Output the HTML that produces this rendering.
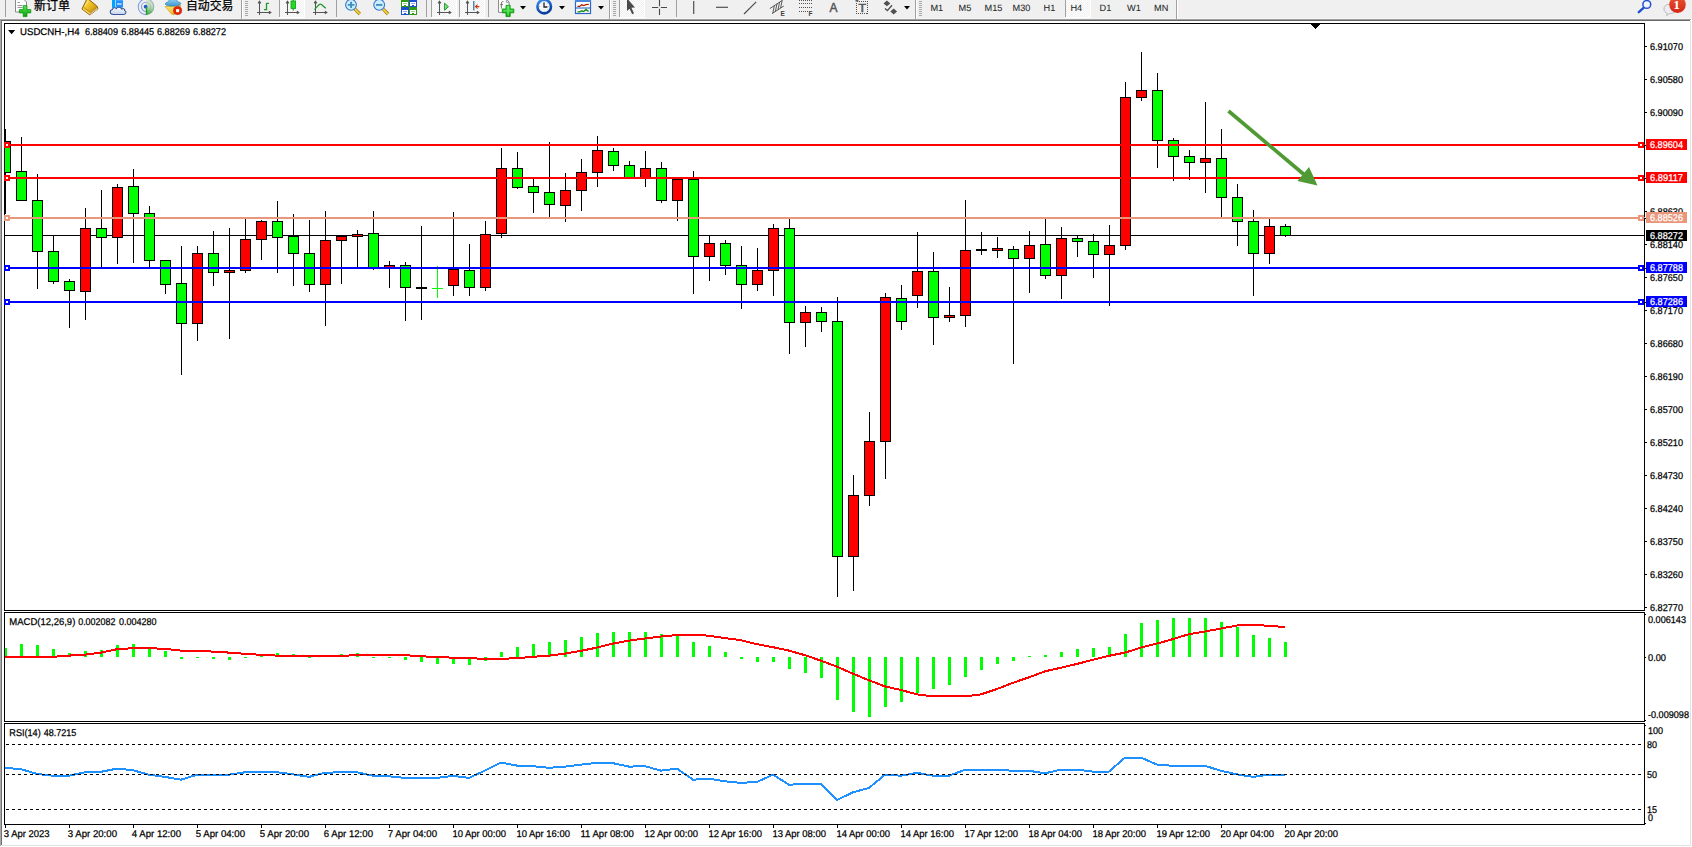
<!DOCTYPE html>
<html lang="zh"><head><meta charset="utf-8"><title>USDCNH-,H4</title>
<style>
html,body{margin:0;padding:0;background:#fff}
body{width:1692px;height:847px;overflow:hidden;position:relative;font-family:"Liberation Sans","Noto Sans CJK SC",sans-serif}
svg{position:absolute;left:0;top:0;display:block}
text{font-family:"Liberation Sans","Noto Sans CJK SC",sans-serif;fill:#000}
.ax{font-size:9.8px;stroke:#000;stroke-width:0.25px;text-rendering:geometricPrecision}
.lb{font-size:9.8px;fill:#fff;stroke:#fff;stroke-width:0.25px;text-rendering:geometricPrecision}
.tb{font-size:9.2px;fill:#2a2a2a;stroke:#2a2a2a;stroke-width:0.08px;text-rendering:geometricPrecision}
.cj{font-size:12px;fill:#000;stroke:#000;stroke-width:0.25px}
</style></head><body>
<svg width="1692" height="847" viewBox="0 0 1692 847">
<g shape-rendering="crispEdges">
<rect x="0" y="0" width="1692" height="847" fill="#fff"/>
<rect x="0" y="0" width="1692" height="18" fill="#f0f0f0"/>
<rect x="0" y="18" width="1692" height="1" fill="#f5f5f5"/>
<rect x="0" y="19" width="1691" height="1" fill="#a0a0a0"/>
<rect x="0" y="20" width="1" height="1" fill="#a0a0a0"/>
<rect x="1" y="20" width="1689" height="1" fill="#696969"/>
<rect x="1691" y="19" width="1" height="2" fill="#fff"/>
<rect x="0" y="21" width="1" height="825" fill="#a9a9a9"/>
<rect x="1" y="21" width="1" height="824" fill="#727272"/>
<rect x="1690" y="21" width="1" height="825" fill="#e3e3e3"/>
<rect x="2" y="845" width="1689" height="1" fill="#e3e3e3"/>
<rect x="4" y="23" width="1641" height="1" fill="#000"/>
<rect x="4" y="23" width="1" height="802" fill="#000"/>
<rect x="1644" y="23" width="1" height="802" fill="#000"/>
<rect x="4" y="824" width="1641" height="1" fill="#000"/>
<rect x="4" y="610" width="1641" height="1" fill="#000"/>
<rect x="4" y="612" width="1641" height="1" fill="#000"/>
<rect x="4" y="721" width="1641" height="1" fill="#000"/>
<rect x="4" y="723" width="1641" height="1" fill="#000"/>
<rect x="4" y="611" width="1641" height="1" fill="#fff"/>
<rect x="4" y="722" width="1641" height="1" fill="#fff"/>
<polygon points="1310,24 1320,24 1315,29" fill="#000"/>
<rect x="5" y="235" width="1639" height="1" fill="#000"/>
<rect x="5" y="129" width="1" height="85" fill="#000"/>
<rect x="5" y="141" width="6" height="32" fill="#000"/>
<rect x="5" y="142" width="5" height="30" fill="#0f0"/>
<rect x="21" y="137" width="1" height="63" fill="#000"/>
<rect x="16" y="171" width="11" height="30" fill="#000"/>
<rect x="17" y="172" width="9" height="28" fill="#0f0"/>
<rect x="37" y="174" width="1" height="115" fill="#000"/>
<rect x="32" y="200" width="11" height="52" fill="#000"/>
<rect x="33" y="201" width="9" height="50" fill="#0f0"/>
<rect x="53" y="235" width="1" height="49" fill="#000"/>
<rect x="48" y="251" width="11" height="31" fill="#000"/>
<rect x="49" y="252" width="9" height="29" fill="#0f0"/>
<rect x="69" y="279" width="1" height="49" fill="#000"/>
<rect x="64" y="281" width="11" height="10" fill="#000"/>
<rect x="65" y="282" width="9" height="8" fill="#0f0"/>
<rect x="85" y="208" width="1" height="112" fill="#000"/>
<rect x="80" y="228" width="11" height="64" fill="#000"/>
<rect x="81" y="229" width="9" height="62" fill="#f00"/>
<rect x="101" y="190" width="1" height="78" fill="#000"/>
<rect x="96" y="228" width="11" height="10" fill="#000"/>
<rect x="97" y="229" width="9" height="8" fill="#0f0"/>
<rect x="117" y="184" width="1" height="80" fill="#000"/>
<rect x="112" y="187" width="11" height="51" fill="#000"/>
<rect x="113" y="188" width="9" height="49" fill="#f00"/>
<rect x="133" y="169" width="1" height="94" fill="#000"/>
<rect x="128" y="186" width="11" height="28" fill="#000"/>
<rect x="129" y="187" width="9" height="26" fill="#0f0"/>
<rect x="149" y="206" width="1" height="62" fill="#000"/>
<rect x="144" y="213" width="11" height="48" fill="#000"/>
<rect x="145" y="214" width="9" height="46" fill="#0f0"/>
<rect x="165" y="260" width="1" height="34" fill="#000"/>
<rect x="160" y="260" width="11" height="25" fill="#000"/>
<rect x="161" y="261" width="9" height="23" fill="#0f0"/>
<rect x="181" y="246" width="1" height="129" fill="#000"/>
<rect x="176" y="283" width="11" height="41" fill="#000"/>
<rect x="177" y="284" width="9" height="39" fill="#0f0"/>
<rect x="197" y="246" width="1" height="95" fill="#000"/>
<rect x="192" y="253" width="11" height="71" fill="#000"/>
<rect x="193" y="254" width="9" height="69" fill="#f00"/>
<rect x="213" y="231" width="1" height="55" fill="#000"/>
<rect x="208" y="253" width="11" height="20" fill="#000"/>
<rect x="209" y="254" width="9" height="18" fill="#0f0"/>
<rect x="229" y="228" width="1" height="111" fill="#000"/>
<rect x="224" y="270" width="11" height="3" fill="#000"/>
<rect x="225" y="271" width="9" height="1" fill="#f00"/>
<rect x="245" y="218" width="1" height="55" fill="#000"/>
<rect x="240" y="239" width="11" height="32" fill="#000"/>
<rect x="241" y="240" width="9" height="30" fill="#f00"/>
<rect x="261" y="220" width="1" height="40" fill="#000"/>
<rect x="256" y="221" width="11" height="19" fill="#000"/>
<rect x="257" y="222" width="9" height="17" fill="#f00"/>
<rect x="277" y="201" width="1" height="72" fill="#000"/>
<rect x="272" y="221" width="11" height="17" fill="#000"/>
<rect x="273" y="222" width="9" height="15" fill="#0f0"/>
<rect x="293" y="214" width="1" height="72" fill="#000"/>
<rect x="288" y="236" width="11" height="18" fill="#000"/>
<rect x="289" y="237" width="9" height="16" fill="#0f0"/>
<rect x="309" y="220" width="1" height="72" fill="#000"/>
<rect x="304" y="253" width="11" height="32" fill="#000"/>
<rect x="305" y="254" width="9" height="30" fill="#0f0"/>
<rect x="325" y="211" width="1" height="115" fill="#000"/>
<rect x="320" y="240" width="11" height="45" fill="#000"/>
<rect x="321" y="241" width="9" height="43" fill="#f00"/>
<rect x="341" y="235" width="1" height="49" fill="#000"/>
<rect x="336" y="236" width="11" height="5" fill="#000"/>
<rect x="337" y="237" width="9" height="3" fill="#f00"/>
<rect x="357" y="230" width="1" height="37" fill="#000"/>
<rect x="352" y="234" width="11" height="3" fill="#000"/>
<rect x="353" y="235" width="9" height="1" fill="#f00"/>
<rect x="373" y="211" width="1" height="59" fill="#000"/>
<rect x="368" y="233" width="11" height="35" fill="#000"/>
<rect x="369" y="234" width="9" height="33" fill="#0f0"/>
<rect x="389" y="261" width="1" height="27" fill="#000"/>
<rect x="384" y="265" width="11" height="3" fill="#000"/>
<rect x="385" y="266" width="9" height="1" fill="#f00"/>
<rect x="405" y="262" width="1" height="59" fill="#000"/>
<rect x="400" y="265" width="11" height="23" fill="#000"/>
<rect x="401" y="266" width="9" height="21" fill="#0f0"/>
<rect x="421" y="226" width="1" height="94" fill="#000"/>
<rect x="416" y="287" width="11" height="2" fill="#000"/>
<rect x="437" y="266" width="1" height="32" fill="#0f0"/>
<rect x="432" y="288" width="11" height="1" fill="#0f0"/>
<rect x="453" y="212" width="1" height="84" fill="#000"/>
<rect x="448" y="269" width="11" height="17" fill="#000"/>
<rect x="449" y="270" width="9" height="15" fill="#f00"/>
<rect x="469" y="244" width="1" height="52" fill="#000"/>
<rect x="464" y="270" width="11" height="18" fill="#000"/>
<rect x="465" y="271" width="9" height="16" fill="#0f0"/>
<rect x="485" y="221" width="1" height="70" fill="#000"/>
<rect x="480" y="234" width="11" height="54" fill="#000"/>
<rect x="481" y="235" width="9" height="52" fill="#f00"/>
<rect x="501" y="148" width="1" height="90" fill="#000"/>
<rect x="496" y="168" width="11" height="66" fill="#000"/>
<rect x="497" y="169" width="9" height="64" fill="#f00"/>
<rect x="517" y="152" width="1" height="37" fill="#000"/>
<rect x="512" y="168" width="11" height="20" fill="#000"/>
<rect x="513" y="169" width="9" height="18" fill="#0f0"/>
<rect x="533" y="179" width="1" height="34" fill="#000"/>
<rect x="528" y="186" width="11" height="7" fill="#000"/>
<rect x="529" y="187" width="9" height="5" fill="#0f0"/>
<rect x="549" y="142" width="1" height="75" fill="#000"/>
<rect x="544" y="192" width="11" height="13" fill="#000"/>
<rect x="545" y="193" width="9" height="11" fill="#0f0"/>
<rect x="565" y="173" width="1" height="49" fill="#000"/>
<rect x="560" y="190" width="11" height="16" fill="#000"/>
<rect x="561" y="191" width="9" height="14" fill="#f00"/>
<rect x="581" y="159" width="1" height="52" fill="#000"/>
<rect x="576" y="172" width="11" height="19" fill="#000"/>
<rect x="577" y="173" width="9" height="17" fill="#f00"/>
<rect x="597" y="136" width="1" height="51" fill="#000"/>
<rect x="592" y="150" width="11" height="23" fill="#000"/>
<rect x="593" y="151" width="9" height="21" fill="#f00"/>
<rect x="613" y="148" width="1" height="23" fill="#000"/>
<rect x="608" y="151" width="11" height="15" fill="#000"/>
<rect x="609" y="152" width="9" height="13" fill="#0f0"/>
<rect x="629" y="161" width="1" height="17" fill="#000"/>
<rect x="624" y="165" width="11" height="14" fill="#000"/>
<rect x="625" y="166" width="9" height="12" fill="#0f0"/>
<rect x="645" y="151" width="1" height="36" fill="#000"/>
<rect x="640" y="168" width="11" height="11" fill="#000"/>
<rect x="641" y="169" width="9" height="9" fill="#f00"/>
<rect x="661" y="162" width="1" height="41" fill="#000"/>
<rect x="656" y="168" width="11" height="33" fill="#000"/>
<rect x="657" y="169" width="9" height="31" fill="#0f0"/>
<rect x="677" y="179" width="1" height="42" fill="#000"/>
<rect x="672" y="179" width="11" height="22" fill="#000"/>
<rect x="673" y="180" width="9" height="20" fill="#f00"/>
<rect x="693" y="171" width="1" height="123" fill="#000"/>
<rect x="688" y="179" width="11" height="78" fill="#000"/>
<rect x="689" y="180" width="9" height="76" fill="#0f0"/>
<rect x="709" y="236" width="1" height="45" fill="#000"/>
<rect x="704" y="243" width="11" height="14" fill="#000"/>
<rect x="705" y="244" width="9" height="12" fill="#f00"/>
<rect x="725" y="240" width="1" height="35" fill="#000"/>
<rect x="720" y="243" width="11" height="23" fill="#000"/>
<rect x="721" y="244" width="9" height="21" fill="#0f0"/>
<rect x="741" y="246" width="1" height="63" fill="#000"/>
<rect x="736" y="265" width="11" height="20" fill="#000"/>
<rect x="737" y="266" width="9" height="18" fill="#0f0"/>
<rect x="757" y="248" width="1" height="43" fill="#000"/>
<rect x="752" y="270" width="11" height="15" fill="#000"/>
<rect x="753" y="271" width="9" height="13" fill="#f00"/>
<rect x="773" y="224" width="1" height="72" fill="#000"/>
<rect x="768" y="228" width="11" height="43" fill="#000"/>
<rect x="769" y="229" width="9" height="41" fill="#f00"/>
<rect x="789" y="218" width="1" height="136" fill="#000"/>
<rect x="784" y="228" width="11" height="95" fill="#000"/>
<rect x="785" y="229" width="9" height="93" fill="#0f0"/>
<rect x="805" y="306" width="1" height="41" fill="#000"/>
<rect x="800" y="312" width="11" height="11" fill="#000"/>
<rect x="801" y="313" width="9" height="9" fill="#f00"/>
<rect x="821" y="307" width="1" height="25" fill="#000"/>
<rect x="816" y="312" width="11" height="10" fill="#000"/>
<rect x="817" y="313" width="9" height="8" fill="#0f0"/>
<rect x="837" y="297" width="1" height="300" fill="#000"/>
<rect x="832" y="321" width="11" height="236" fill="#000"/>
<rect x="833" y="322" width="9" height="234" fill="#0f0"/>
<rect x="853" y="475" width="1" height="116" fill="#000"/>
<rect x="848" y="495" width="11" height="62" fill="#000"/>
<rect x="849" y="496" width="9" height="60" fill="#f00"/>
<rect x="869" y="412" width="1" height="94" fill="#000"/>
<rect x="864" y="441" width="11" height="55" fill="#000"/>
<rect x="865" y="442" width="9" height="53" fill="#f00"/>
<rect x="885" y="293" width="1" height="186" fill="#000"/>
<rect x="880" y="297" width="11" height="145" fill="#000"/>
<rect x="881" y="298" width="9" height="143" fill="#f00"/>
<rect x="901" y="285" width="1" height="45" fill="#000"/>
<rect x="896" y="298" width="11" height="24" fill="#000"/>
<rect x="897" y="299" width="9" height="22" fill="#0f0"/>
<rect x="917" y="232" width="1" height="76" fill="#000"/>
<rect x="912" y="271" width="11" height="25" fill="#000"/>
<rect x="913" y="272" width="9" height="23" fill="#f00"/>
<rect x="933" y="252" width="1" height="93" fill="#000"/>
<rect x="928" y="271" width="11" height="47" fill="#000"/>
<rect x="929" y="272" width="9" height="45" fill="#0f0"/>
<rect x="949" y="287" width="1" height="35" fill="#000"/>
<rect x="944" y="315" width="11" height="3" fill="#000"/>
<rect x="945" y="316" width="9" height="1" fill="#f00"/>
<rect x="965" y="200" width="1" height="127" fill="#000"/>
<rect x="960" y="250" width="11" height="66" fill="#000"/>
<rect x="961" y="251" width="9" height="64" fill="#f00"/>
<rect x="981" y="232" width="1" height="23" fill="#000"/>
<rect x="976" y="249" width="11" height="2" fill="#000"/>
<rect x="997" y="237" width="1" height="21" fill="#000"/>
<rect x="992" y="248" width="11" height="3" fill="#000"/>
<rect x="993" y="249" width="9" height="1" fill="#f00"/>
<rect x="1013" y="246" width="1" height="118" fill="#000"/>
<rect x="1008" y="249" width="11" height="10" fill="#000"/>
<rect x="1009" y="250" width="9" height="8" fill="#0f0"/>
<rect x="1029" y="231" width="1" height="62" fill="#000"/>
<rect x="1024" y="245" width="11" height="14" fill="#000"/>
<rect x="1025" y="246" width="9" height="12" fill="#f00"/>
<rect x="1045" y="219" width="1" height="60" fill="#000"/>
<rect x="1040" y="244" width="11" height="32" fill="#000"/>
<rect x="1041" y="245" width="9" height="30" fill="#0f0"/>
<rect x="1061" y="227" width="1" height="72" fill="#000"/>
<rect x="1056" y="238" width="11" height="38" fill="#000"/>
<rect x="1057" y="239" width="9" height="36" fill="#f00"/>
<rect x="1077" y="236" width="1" height="21" fill="#000"/>
<rect x="1072" y="238" width="11" height="4" fill="#000"/>
<rect x="1073" y="239" width="9" height="2" fill="#0f0"/>
<rect x="1093" y="234" width="1" height="44" fill="#000"/>
<rect x="1088" y="241" width="11" height="14" fill="#000"/>
<rect x="1089" y="242" width="9" height="12" fill="#0f0"/>
<rect x="1109" y="225" width="1" height="81" fill="#000"/>
<rect x="1104" y="245" width="11" height="10" fill="#000"/>
<rect x="1105" y="246" width="9" height="8" fill="#f00"/>
<rect x="1125" y="82" width="1" height="168" fill="#000"/>
<rect x="1120" y="97" width="11" height="149" fill="#000"/>
<rect x="1121" y="98" width="9" height="147" fill="#f00"/>
<rect x="1141" y="52" width="1" height="49" fill="#000"/>
<rect x="1136" y="90" width="11" height="8" fill="#000"/>
<rect x="1137" y="91" width="9" height="6" fill="#f00"/>
<rect x="1157" y="73" width="1" height="95" fill="#000"/>
<rect x="1152" y="90" width="11" height="51" fill="#000"/>
<rect x="1153" y="91" width="9" height="49" fill="#0f0"/>
<rect x="1173" y="138" width="1" height="43" fill="#000"/>
<rect x="1168" y="140" width="11" height="17" fill="#000"/>
<rect x="1169" y="141" width="9" height="15" fill="#0f0"/>
<rect x="1189" y="150" width="1" height="30" fill="#000"/>
<rect x="1184" y="156" width="11" height="7" fill="#000"/>
<rect x="1185" y="157" width="9" height="5" fill="#0f0"/>
<rect x="1205" y="102" width="1" height="91" fill="#000"/>
<rect x="1200" y="158" width="11" height="5" fill="#000"/>
<rect x="1201" y="159" width="9" height="3" fill="#f00"/>
<rect x="1221" y="129" width="1" height="88" fill="#000"/>
<rect x="1216" y="158" width="11" height="40" fill="#000"/>
<rect x="1217" y="159" width="9" height="38" fill="#0f0"/>
<rect x="1237" y="184" width="1" height="62" fill="#000"/>
<rect x="1232" y="197" width="11" height="25" fill="#000"/>
<rect x="1233" y="198" width="9" height="23" fill="#0f0"/>
<rect x="1253" y="210" width="1" height="86" fill="#000"/>
<rect x="1248" y="221" width="11" height="33" fill="#000"/>
<rect x="1249" y="222" width="9" height="31" fill="#0f0"/>
<rect x="1269" y="219" width="1" height="45" fill="#000"/>
<rect x="1264" y="226" width="11" height="28" fill="#000"/>
<rect x="1265" y="227" width="9" height="26" fill="#f00"/>
<rect x="1285" y="224" width="1" height="13" fill="#000"/>
<rect x="1280" y="226" width="11" height="10" fill="#000"/>
<rect x="1281" y="227" width="9" height="8" fill="#0f0"/>
<rect x="5" y="144" width="1639" height="2" fill="#f00"/>
<rect x="1644" y="144" width="1" height="1" fill="#f00"/>
<rect x="1645" y="145" width="1" height="1" fill="#000"/>
<rect x="4" y="142" width="6" height="6" fill="#f00"/>
<rect x="6" y="144" width="2" height="2" fill="#fff"/>
<rect x="1638" y="142" width="6" height="6" fill="#f00"/>
<rect x="1640" y="144" width="2" height="2" fill="#fff"/>
<rect x="5" y="177" width="1639" height="2" fill="#f00"/>
<rect x="1644" y="177" width="1" height="1" fill="#f00"/>
<rect x="1645" y="178" width="1" height="1" fill="#000"/>
<rect x="4" y="175" width="6" height="6" fill="#f00"/>
<rect x="6" y="177" width="2" height="2" fill="#fff"/>
<rect x="1638" y="175" width="6" height="6" fill="#f00"/>
<rect x="1640" y="177" width="2" height="2" fill="#fff"/>
<rect x="5" y="217" width="1639" height="2" fill="#e9967a"/>
<rect x="1644" y="217" width="1" height="1" fill="#e9967a"/>
<rect x="1645" y="218" width="1" height="1" fill="#000"/>
<rect x="4" y="215" width="6" height="6" fill="#e9967a"/>
<rect x="6" y="217" width="2" height="2" fill="#fff"/>
<rect x="1638" y="215" width="6" height="6" fill="#e9967a"/>
<rect x="1640" y="217" width="2" height="2" fill="#fff"/>
<rect x="5" y="267" width="1639" height="2" fill="#00f"/>
<rect x="1644" y="267" width="1" height="1" fill="#00f"/>
<rect x="1645" y="268" width="1" height="1" fill="#000"/>
<rect x="4" y="265" width="6" height="6" fill="#00f"/>
<rect x="6" y="267" width="2" height="2" fill="#fff"/>
<rect x="1638" y="265" width="6" height="6" fill="#00f"/>
<rect x="1640" y="267" width="2" height="2" fill="#fff"/>
<rect x="5" y="301" width="1639" height="2" fill="#00f"/>
<rect x="1644" y="301" width="1" height="1" fill="#00f"/>
<rect x="1645" y="302" width="1" height="1" fill="#000"/>
<rect x="4" y="299" width="6" height="6" fill="#00f"/>
<rect x="6" y="301" width="2" height="2" fill="#fff"/>
<rect x="1638" y="299" width="6" height="6" fill="#00f"/>
<rect x="1640" y="301" width="2" height="2" fill="#fff"/>
<rect x="5" y="648" width="2" height="9" fill="#0f0"/>
<rect x="20" y="644" width="3" height="13" fill="#0f0"/>
<rect x="36" y="645" width="3" height="12" fill="#0f0"/>
<rect x="52" y="649" width="3" height="8" fill="#0f0"/>
<rect x="68" y="653" width="3" height="4" fill="#0f0"/>
<rect x="84" y="651" width="3" height="6" fill="#0f0"/>
<rect x="100" y="650" width="3" height="7" fill="#0f0"/>
<rect x="116" y="645" width="3" height="12" fill="#0f0"/>
<rect x="132" y="644" width="3" height="13" fill="#0f0"/>
<rect x="148" y="649" width="3" height="8" fill="#0f0"/>
<rect x="164" y="651" width="3" height="6" fill="#0f0"/>
<rect x="180" y="657" width="3" height="2" fill="#0f0"/>
<rect x="196" y="657" width="3" height="1" fill="#0f0"/>
<rect x="212" y="657" width="3" height="2" fill="#0f0"/>
<rect x="228" y="657" width="3" height="3" fill="#0f0"/>
<rect x="244" y="657" width="3" height="1" fill="#0f0"/>
<rect x="260" y="655" width="3" height="2" fill="#0f0"/>
<rect x="276" y="653" width="3" height="4" fill="#0f0"/>
<rect x="292" y="654" width="3" height="3" fill="#0f0"/>
<rect x="308" y="657" width="3" height="1" fill="#0f0"/>
<rect x="324" y="656" width="3" height="1" fill="#0f0"/>
<rect x="340" y="654" width="3" height="3" fill="#0f0"/>
<rect x="356" y="653" width="3" height="4" fill="#0f0"/>
<rect x="372" y="657" width="3" height="1" fill="#0f0"/>
<rect x="388" y="657" width="3" height="1" fill="#0f0"/>
<rect x="404" y="657" width="3" height="3" fill="#0f0"/>
<rect x="420" y="657" width="3" height="5" fill="#0f0"/>
<rect x="436" y="657" width="3" height="7" fill="#0f0"/>
<rect x="452" y="657" width="3" height="7" fill="#0f0"/>
<rect x="468" y="657" width="3" height="8" fill="#0f0"/>
<rect x="484" y="657" width="3" height="4" fill="#0f0"/>
<rect x="500" y="652" width="3" height="5" fill="#0f0"/>
<rect x="516" y="647" width="3" height="10" fill="#0f0"/>
<rect x="532" y="644" width="3" height="13" fill="#0f0"/>
<rect x="548" y="642" width="3" height="15" fill="#0f0"/>
<rect x="564" y="640" width="3" height="17" fill="#0f0"/>
<rect x="580" y="637" width="3" height="20" fill="#0f0"/>
<rect x="596" y="633" width="3" height="24" fill="#0f0"/>
<rect x="612" y="632" width="3" height="25" fill="#0f0"/>
<rect x="628" y="632" width="3" height="25" fill="#0f0"/>
<rect x="644" y="632" width="3" height="25" fill="#0f0"/>
<rect x="660" y="634" width="3" height="23" fill="#0f0"/>
<rect x="676" y="636" width="3" height="21" fill="#0f0"/>
<rect x="692" y="642" width="3" height="15" fill="#0f0"/>
<rect x="708" y="646" width="3" height="11" fill="#0f0"/>
<rect x="724" y="652" width="3" height="5" fill="#0f0"/>
<rect x="740" y="657" width="3" height="2" fill="#0f0"/>
<rect x="756" y="657" width="3" height="5" fill="#0f0"/>
<rect x="772" y="657" width="3" height="5" fill="#0f0"/>
<rect x="788" y="657" width="3" height="12" fill="#0f0"/>
<rect x="804" y="657" width="3" height="16" fill="#0f0"/>
<rect x="820" y="657" width="3" height="21" fill="#0f0"/>
<rect x="836" y="657" width="3" height="43" fill="#0f0"/>
<rect x="852" y="657" width="3" height="55" fill="#0f0"/>
<rect x="868" y="657" width="3" height="60" fill="#0f0"/>
<rect x="884" y="657" width="3" height="50" fill="#0f0"/>
<rect x="900" y="657" width="3" height="45" fill="#0f0"/>
<rect x="916" y="657" width="3" height="36" fill="#0f0"/>
<rect x="932" y="657" width="3" height="32" fill="#0f0"/>
<rect x="948" y="657" width="3" height="28" fill="#0f0"/>
<rect x="964" y="657" width="3" height="20" fill="#0f0"/>
<rect x="980" y="657" width="3" height="13" fill="#0f0"/>
<rect x="996" y="657" width="3" height="7" fill="#0f0"/>
<rect x="1012" y="657" width="3" height="4" fill="#0f0"/>
<rect x="1028" y="656" width="3" height="1" fill="#0f0"/>
<rect x="1044" y="655" width="3" height="2" fill="#0f0"/>
<rect x="1060" y="652" width="3" height="5" fill="#0f0"/>
<rect x="1076" y="649" width="3" height="8" fill="#0f0"/>
<rect x="1092" y="648" width="3" height="9" fill="#0f0"/>
<rect x="1108" y="647" width="3" height="10" fill="#0f0"/>
<rect x="1124" y="634" width="3" height="23" fill="#0f0"/>
<rect x="1140" y="623" width="3" height="34" fill="#0f0"/>
<rect x="1156" y="620" width="3" height="37" fill="#0f0"/>
<rect x="1172" y="618" width="3" height="39" fill="#0f0"/>
<rect x="1188" y="618" width="3" height="39" fill="#0f0"/>
<rect x="1204" y="618" width="3" height="39" fill="#0f0"/>
<rect x="1220" y="622" width="3" height="35" fill="#0f0"/>
<rect x="1236" y="627" width="3" height="30" fill="#0f0"/>
<rect x="1252" y="635" width="3" height="22" fill="#0f0"/>
<rect x="1268" y="638" width="3" height="19" fill="#0f0"/>
<rect x="1284" y="642" width="3" height="15" fill="#0f0"/>
</g>
<polyline points="5,656.8 21,656.8 37,656.8 53,656.8 69,655.6 85,654.6 101,652.6 117,649.2 133,648.2 149,648.2 165,648.8 181,650.6 197,650.8 213,651.6 229,652.6 245,653.8 261,654.8 277,655.6 293,655.8 309,655.8 325,655.8 341,655.8 357,655.2 373,654.8 389,654.8 405,655.2 421,656.2 437,657.2 453,657.6 469,658.2 485,658.8 501,658.8 517,658.2 533,656.8 549,655.6 565,653.6 581,650.8 597,647.6 613,643.6 629,640.6 645,638.5 661,636.5 677,635.1 693,634.7 709,635.7 725,638.1 741,640.2 757,644.2 773,647.2 789,650.6 805,655.2 821,660.7 837,666.7 853,673.7 869,680.3 885,686.4 901,690.0 917,694.4 933,696.4 949,696.4 965,696.4 981,694.4 997,689.0 1013,682.8 1029,677.3 1045,671.3 1061,667.7 1077,663.9 1093,659.8 1109,655.8 1125,652.6 1141,647.6 1157,643.6 1173,639.1 1189,634.1 1205,631.5 1221,628.5 1237,625.5 1253,625.1 1269,625.7 1285,627.1" fill="none" stroke="#f00" stroke-width="2" stroke-linejoin="round" shape-rendering="crispEdges"/>
<polyline points="5,767.8 21,769.2 37,773.9 53,775.7 69,775.7 85,772.3 101,771.8 117,768.6 133,770.2 149,774.7 165,776.9 181,779.7 197,774.7 213,774.7 229,774.7 245,772.3 261,772.3 277,772.3 293,774.3 309,776.9 325,772.7 341,772.3 357,772.3 373,775.7 389,776.3 405,777.9 421,777.9 437,777.9 453,775.9 469,777.9 485,770.6 501,762.6 517,765.6 533,766.2 549,767.8 565,766.6 581,764.6 597,762.8 613,763.2 629,766.6 645,766.2 661,770.6 677,768.6 693,779.7 709,778.7 725,781.3 741,782.9 757,781.9 773,774.7 789,784.7 805,783.9 821,783.9 837,800.0 853,792.3 869,787.9 885,774.7 901,775.7 917,772.9 933,775.7 949,775.7 965,769.8 981,769.6 997,769.6 1013,770.8 1029,770.8 1045,773.3 1061,769.6 1077,769.6 1093,771.6 1109,771.6 1125,757.6 1141,757.6 1157,764.6 1173,765.8 1189,765.8 1205,765.8 1221,770.8 1237,774.3 1253,776.9 1269,774.7 1285,774.7" fill="none" stroke="#1e90ff" stroke-width="2" stroke-linejoin="round" shape-rendering="crispEdges"/>
<g shape-rendering="crispEdges">
<line x1="6" y1="744.5" x2="1642" y2="744.5" stroke="#000" stroke-width="1" stroke-dasharray="3,3"/>
<line x1="6" y1="774.5" x2="1642" y2="774.5" stroke="#000" stroke-width="1" stroke-dasharray="3,3"/>
<line x1="6" y1="809.5" x2="1642" y2="809.5" stroke="#000" stroke-width="1" stroke-dasharray="3,3"/>
</g>
<line x1="1228.5" y1="111" x2="1304" y2="174.5" stroke="#4f9a32" stroke-width="3.6"/>
<polygon points="1317.5,185.5 1309,167 1297.5,181" fill="#4f9a32"/>
<g shape-rendering="crispEdges">
<rect x="1645" y="46" width="2" height="1" fill="#000"/>
<rect x="1645" y="79" width="2" height="1" fill="#000"/>
<rect x="1645" y="112" width="2" height="1" fill="#000"/>
<rect x="1645" y="145" width="2" height="1" fill="#000"/>
<rect x="1645" y="178" width="2" height="1" fill="#000"/>
<rect x="1645" y="211" width="2" height="1" fill="#000"/>
<rect x="1645" y="244" width="2" height="1" fill="#000"/>
<rect x="1645" y="277" width="2" height="1" fill="#000"/>
<rect x="1645" y="310" width="2" height="1" fill="#000"/>
<rect x="1645" y="343" width="2" height="1" fill="#000"/>
<rect x="1645" y="376" width="2" height="1" fill="#000"/>
<rect x="1645" y="409" width="2" height="1" fill="#000"/>
<rect x="1645" y="442" width="2" height="1" fill="#000"/>
<rect x="1645" y="475" width="2" height="1" fill="#000"/>
<rect x="1645" y="508" width="2" height="1" fill="#000"/>
<rect x="1645" y="541" width="2" height="1" fill="#000"/>
<rect x="1645" y="574" width="2" height="1" fill="#000"/>
<rect x="1645" y="607" width="2" height="1" fill="#000"/>
<rect x="1645" y="614" width="1" height="1" fill="#000"/>
<rect x="1645" y="657" width="1" height="1" fill="#000"/>
<rect x="1645" y="720" width="1" height="1" fill="#000"/>
<rect x="1645" y="725" width="1" height="1" fill="#000"/>
<rect x="1645" y="823" width="1" height="1" fill="#000"/>
<rect x="5" y="825" width="1" height="3" fill="#000"/>
<rect x="69" y="825" width="1" height="3" fill="#000"/>
<rect x="133" y="825" width="1" height="3" fill="#000"/>
<rect x="197" y="825" width="1" height="3" fill="#000"/>
<rect x="261" y="825" width="1" height="3" fill="#000"/>
<rect x="325" y="825" width="1" height="3" fill="#000"/>
<rect x="389" y="825" width="1" height="3" fill="#000"/>
<rect x="453" y="825" width="1" height="3" fill="#000"/>
<rect x="517" y="825" width="1" height="3" fill="#000"/>
<rect x="581" y="825" width="1" height="3" fill="#000"/>
<rect x="645" y="825" width="1" height="3" fill="#000"/>
<rect x="709" y="825" width="1" height="3" fill="#000"/>
<rect x="773" y="825" width="1" height="3" fill="#000"/>
<rect x="837" y="825" width="1" height="3" fill="#000"/>
<rect x="901" y="825" width="1" height="3" fill="#000"/>
<rect x="965" y="825" width="1" height="3" fill="#000"/>
<rect x="1029" y="825" width="1" height="3" fill="#000"/>
<rect x="1093" y="825" width="1" height="3" fill="#000"/>
<rect x="1157" y="825" width="1" height="3" fill="#000"/>
<rect x="1221" y="825" width="1" height="3" fill="#000"/>
<rect x="1285" y="825" width="1" height="3" fill="#000"/>
</g>
<text class="ax" x="1650" y="50.0" textLength="33" lengthAdjust="spacingAndGlyphs">6.91070</text>
<text class="ax" x="1650" y="83.0" textLength="33" lengthAdjust="spacingAndGlyphs">6.90580</text>
<text class="ax" x="1650" y="116.0" textLength="33" lengthAdjust="spacingAndGlyphs">6.90090</text>
<text class="ax" x="1650" y="149.0" textLength="33" lengthAdjust="spacingAndGlyphs">6.89600</text>
<text class="ax" x="1650" y="182.0" textLength="33" lengthAdjust="spacingAndGlyphs">6.89110</text>
<text class="ax" x="1650" y="215.0" textLength="33" lengthAdjust="spacingAndGlyphs">6.88630</text>
<text class="ax" x="1650" y="248.0" textLength="33" lengthAdjust="spacingAndGlyphs">6.88140</text>
<text class="ax" x="1650" y="281.0" textLength="33" lengthAdjust="spacingAndGlyphs">6.87650</text>
<text class="ax" x="1650" y="314.0" textLength="33" lengthAdjust="spacingAndGlyphs">6.87170</text>
<text class="ax" x="1650" y="347.0" textLength="33" lengthAdjust="spacingAndGlyphs">6.86680</text>
<text class="ax" x="1650" y="380.0" textLength="33" lengthAdjust="spacingAndGlyphs">6.86190</text>
<text class="ax" x="1650" y="413.0" textLength="33" lengthAdjust="spacingAndGlyphs">6.85700</text>
<text class="ax" x="1650" y="446.0" textLength="33" lengthAdjust="spacingAndGlyphs">6.85210</text>
<text class="ax" x="1650" y="479.0" textLength="33" lengthAdjust="spacingAndGlyphs">6.84730</text>
<text class="ax" x="1650" y="512.0" textLength="33" lengthAdjust="spacingAndGlyphs">6.84240</text>
<text class="ax" x="1650" y="545.0" textLength="33" lengthAdjust="spacingAndGlyphs">6.83750</text>
<text class="ax" x="1650" y="578.0" textLength="33" lengthAdjust="spacingAndGlyphs">6.83260</text>
<text class="ax" x="1650" y="611.0" textLength="33" lengthAdjust="spacingAndGlyphs">6.82770</text>
<rect x="1646" y="139" width="41" height="11" fill="#f00" shape-rendering="crispEdges"/>
<text class="lb" x="1650" y="148.0" textLength="33" lengthAdjust="spacingAndGlyphs">6.89604</text>
<rect x="1646" y="172" width="41" height="11" fill="#f00" shape-rendering="crispEdges"/>
<text class="lb" x="1650" y="181.0" textLength="33" lengthAdjust="spacingAndGlyphs">6.89117</text>
<rect x="1646" y="212" width="41" height="11" fill="#e9967a" shape-rendering="crispEdges"/>
<text class="lb" x="1650" y="221.0" textLength="33" lengthAdjust="spacingAndGlyphs">6.88526</text>
<rect x="1646" y="230" width="41" height="11" fill="#000" shape-rendering="crispEdges"/>
<text class="lb" x="1650" y="239.0" textLength="33" lengthAdjust="spacingAndGlyphs">6.88272</text>
<rect x="1646" y="262" width="41" height="11" fill="#00f" shape-rendering="crispEdges"/>
<text class="lb" x="1650" y="271.0" textLength="33" lengthAdjust="spacingAndGlyphs">6.87788</text>
<rect x="1646" y="296" width="41" height="11" fill="#00f" shape-rendering="crispEdges"/>
<text class="lb" x="1650" y="305.0" textLength="33" lengthAdjust="spacingAndGlyphs">6.87286</text>
<text class="ax" x="1648" y="623" textLength="38" lengthAdjust="spacingAndGlyphs">0.006143</text>
<text class="ax" x="1648" y="661" textLength="18" lengthAdjust="spacingAndGlyphs">0.00</text>
<text class="ax" x="1648" y="718" textLength="41" lengthAdjust="spacingAndGlyphs">-0.009098</text>
<text class="ax" x="1648" y="734" textLength="15" lengthAdjust="spacingAndGlyphs">100</text>
<text class="ax" x="1647" y="748" textLength="10" lengthAdjust="spacingAndGlyphs">80</text>
<text class="ax" x="1647" y="778" textLength="10" lengthAdjust="spacingAndGlyphs">50</text>
<text class="ax" x="1647" y="813" textLength="10" lengthAdjust="spacingAndGlyphs">15</text>
<text class="ax" x="1648" y="821" textLength="5" lengthAdjust="spacingAndGlyphs">0</text>
<polygon points="8,30 15.2,30 11.6,34.3" fill="#000"/>
<text class="ax" x="20.0" y="35.3" textLength="59.5" lengthAdjust="spacingAndGlyphs">USDCNH-,H4</text>
<text class="ax" x="85.0" y="35.3" textLength="33.0" lengthAdjust="spacingAndGlyphs">6.88409</text>
<text class="ax" x="121.2" y="35.3" textLength="33.0" lengthAdjust="spacingAndGlyphs">6.88445</text>
<text class="ax" x="157.0" y="35.3" textLength="33.0" lengthAdjust="spacingAndGlyphs">6.88269</text>
<text class="ax" x="193.0" y="35.3" textLength="33.0" lengthAdjust="spacingAndGlyphs">6.88272</text>
<text class="ax" x="9.3" y="625.0" textLength="66.0" lengthAdjust="spacingAndGlyphs">MACD(12,26,9)</text>
<text class="ax" x="78.2" y="625.0" textLength="37.2" lengthAdjust="spacingAndGlyphs">0.002082</text>
<text class="ax" x="119.0" y="625.0" textLength="37.6" lengthAdjust="spacingAndGlyphs">0.004280</text>
<text class="ax" x="9.3" y="736.0" textLength="31.4" lengthAdjust="spacingAndGlyphs">RSI(14)</text>
<text class="ax" x="43.8" y="736.0" textLength="32.6" lengthAdjust="spacingAndGlyphs">48.7215</text>
<text class="ax" x="3.8" y="837.0" textLength="45.8" lengthAdjust="spacingAndGlyphs">3 Apr 2023</text>
<text class="ax" x="67.8" y="837.0" textLength="49.2" lengthAdjust="spacingAndGlyphs">3 Apr 20:00</text>
<text class="ax" x="131.8" y="837.0" textLength="49.2" lengthAdjust="spacingAndGlyphs">4 Apr 12:00</text>
<text class="ax" x="195.8" y="837.0" textLength="49.2" lengthAdjust="spacingAndGlyphs">5 Apr 04:00</text>
<text class="ax" x="259.8" y="837.0" textLength="49.2" lengthAdjust="spacingAndGlyphs">5 Apr 20:00</text>
<text class="ax" x="323.8" y="837.0" textLength="49.2" lengthAdjust="spacingAndGlyphs">6 Apr 12:00</text>
<text class="ax" x="387.8" y="837.0" textLength="49.2" lengthAdjust="spacingAndGlyphs">7 Apr 04:00</text>
<text class="ax" x="452.4" y="837.0" textLength="53.5" lengthAdjust="spacingAndGlyphs">10 Apr 00:00</text>
<text class="ax" x="516.4" y="837.0" textLength="53.5" lengthAdjust="spacingAndGlyphs">10 Apr 16:00</text>
<text class="ax" x="580.4" y="837.0" textLength="53.5" lengthAdjust="spacingAndGlyphs">11 Apr 08:00</text>
<text class="ax" x="644.4" y="837.0" textLength="53.5" lengthAdjust="spacingAndGlyphs">12 Apr 00:00</text>
<text class="ax" x="708.4" y="837.0" textLength="53.5" lengthAdjust="spacingAndGlyphs">12 Apr 16:00</text>
<text class="ax" x="772.4" y="837.0" textLength="53.5" lengthAdjust="spacingAndGlyphs">13 Apr 08:00</text>
<text class="ax" x="836.4" y="837.0" textLength="53.5" lengthAdjust="spacingAndGlyphs">14 Apr 00:00</text>
<text class="ax" x="900.4" y="837.0" textLength="53.5" lengthAdjust="spacingAndGlyphs">14 Apr 16:00</text>
<text class="ax" x="964.4" y="837.0" textLength="53.5" lengthAdjust="spacingAndGlyphs">17 Apr 12:00</text>
<text class="ax" x="1028.4" y="837.0" textLength="53.5" lengthAdjust="spacingAndGlyphs">18 Apr 04:00</text>
<text class="ax" x="1092.4" y="837.0" textLength="53.5" lengthAdjust="spacingAndGlyphs">18 Apr 20:00</text>
<text class="ax" x="1156.4" y="837.0" textLength="53.5" lengthAdjust="spacingAndGlyphs">19 Apr 12:00</text>
<text class="ax" x="1220.4" y="837.0" textLength="53.5" lengthAdjust="spacingAndGlyphs">20 Apr 04:00</text>
<text class="ax" x="1284.4" y="837.0" textLength="53.5" lengthAdjust="spacingAndGlyphs">20 Apr 20:00</text>
<defs>
<linearGradient id="gGold" x1="0" y1="0" x2="1" y2="1"><stop offset="0" stop-color="#fbe36a"/><stop offset="0.5" stop-color="#e9b91a"/><stop offset="1" stop-color="#a8700c"/></linearGradient>
<linearGradient id="gPlus" x1="0" y1="0" x2="0" y2="1"><stop offset="0" stop-color="#52e852"/><stop offset="1" stop-color="#08a008"/></linearGradient>
<linearGradient id="gBlue" x1="0" y1="0" x2="0" y2="1"><stop offset="0" stop-color="#2f9df4"/><stop offset="1" stop-color="#1464c8"/></linearGradient>
<linearGradient id="gRed" x1="0" y1="0" x2="0" y2="1"><stop offset="0" stop-color="#ea5434"/><stop offset="1" stop-color="#d42614"/></linearGradient>
<linearGradient id="gCloud" x1="0" y1="0" x2="0" y2="1"><stop offset="0" stop-color="#ffffff"/><stop offset="1" stop-color="#c4d2ea"/></linearGradient>
<linearGradient id="gHat" x1="0" y1="0" x2="0" y2="1"><stop offset="0" stop-color="#8fd0f0"/><stop offset="1" stop-color="#3f97cf"/></linearGradient>
<linearGradient id="gFace" x1="0" y1="0" x2="1" y2="1"><stop offset="0" stop-color="#fff27a"/><stop offset="1" stop-color="#e0a010"/></linearGradient>
<pattern id="dith" width="2" height="2" patternUnits="userSpaceOnUse"><rect width="2" height="2" fill="#f0f0f0"/><rect x="0" y="0" width="1" height="1" fill="#fff"/><rect x="1" y="1" width="1" height="1" fill="#fff"/></pattern>
<g id="ddn"><polygon points="0,0 6,0 3,3.6" fill="#000"/></g>
<g id="grip" shape-rendering="crispEdges" fill="#a8a8a8"><rect x="0" y="1" width="3" height="1"/><rect x="0" y="3" width="3" height="1"/><rect x="0" y="5" width="3" height="1"/><rect x="0" y="7" width="3" height="1"/><rect x="0" y="9" width="3" height="1"/><rect x="0" y="11" width="3" height="1"/><rect x="0" y="13" width="3" height="1"/><rect x="0" y="15" width="3" height="1"/></g>
<g id="axes" fill="none" stroke="#555" stroke-width="1.05"><path d="M2.5,15 V1.2 M1.1,3.4 L2.5,1.2 L3.9,3.4 M0,12.5 H13.8 M11.8,11.1 L13.9,12.5 L11.8,13.9"/></g>
</defs>
<!-- separators -->
<g shape-rendering="crispEdges" fill="#a0a0a0">
<rect x="5" y="0" width="1" height="17"/>
<rect x="241" y="0" width="1" height="19"/>
<rect x="279" y="0" width="1" height="17"/>
<rect x="336" y="0" width="1" height="17"/>
<rect x="426" y="0" width="1" height="17"/>
<rect x="431" y="0" width="1" height="17"/>
<rect x="459" y="0" width="1" height="17"/>
<rect x="488" y="0" width="1" height="17"/>
<rect x="609" y="0" width="1" height="19"/>
<rect x="619" y="0" width="1" height="17"/>
<rect x="676" y="0" width="1" height="17"/>
<rect x="915" y="0" width="1" height="19"/>
<rect x="1065" y="0" width="1" height="17"/>
<rect x="1176" y="0" width="1" height="19"/>
</g>
<!-- checked backgrounds -->
<g shape-rendering="crispEdges">
<g fill="url(#dith)">
<rect x="280" y="0" width="24" height="17"/>
<rect x="432" y="0" width="24" height="17"/>
<rect x="460" y="0" width="24" height="17"/>
<rect x="620" y="0" width="24" height="17"/>
<rect x="1066" y="0" width="24" height="17"/>
</g>
<g fill="#fff">
<rect x="279" y="17" width="26" height="1"/><rect x="304" y="0" width="1" height="18"/>
<rect x="431" y="17" width="26" height="1"/><rect x="456" y="0" width="1" height="18"/>
<rect x="459" y="17" width="26" height="1"/><rect x="484" y="0" width="1" height="18"/>
<rect x="619" y="17" width="26" height="1"/><rect x="644" y="0" width="1" height="18"/>
<rect x="1065" y="17" width="26" height="1"/><rect x="1090" y="0" width="1" height="18"/>
<rect x="242" y="0" width="1" height="19"/>
<rect x="610" y="0" width="1" height="19"/>
<rect x="916" y="0" width="1" height="19"/>
<rect x="1177" y="0" width="1" height="19"/>
</g>
</g>
<use href="#grip" x="245" y="0"/>
<use href="#grip" x="613" y="0"/>
<use href="#grip" x="919" y="0"/>
<!-- new order icon -->
<path d="M15.5,-1 V12 H26.5 V2 L23.5,-1 Z" fill="#fff" stroke="#8a8a8a" stroke-width="1"/>
<path d="M17.5,2.5 H20 M17.5,5.5 H22.5 M17.5,7.5 H22.5" stroke="#9a9a9a" stroke-width="1" fill="none"/>
<path d="M23.2,5.6 H27 V9.6 H30.8 V12.9 H27 V16.6 H23.2 V12.9 H19.3 V9.6 H23.2 Z" fill="url(#gPlus)" stroke="#0b8a0b" stroke-width="0.7"/>
<text class="cj" x="34" y="10" textLength="36" lengthAdjust="spacingAndGlyphs">新订单</text>
<!-- gold book -->
<path d="M86.9,-1 L88.8,-0.6 L96.8,6 L98,8.8 L89.8,14.9 L82,9 Z" fill="url(#gGold)" stroke="#8f5a06" stroke-width="1" stroke-linejoin="round"/>
<path d="M96.6,7.4 L97.8,9 L90,14.7 L89.2,13.2 Z" fill="#eadfa6"/>
<path d="M97.2,8.2 L89.6,13.9" stroke="#b08428" stroke-width="0.5" fill="none"/>
<path d="M82.6,9 L83.8,7.8 L90.2,12.6 L89.6,14.2 Z" fill="#f6d45a"/>
<path d="M83.8,7.6 L90.4,12.6 L96.6,7.6" stroke="#a86c0a" stroke-width="0.7" fill="none"/>
<path d="M88.2,0.8 L84.6,6.8" stroke="#fff3a8" stroke-width="1" stroke-opacity="0.7" fill="none"/>
<!-- cloud/server -->
<rect x="112" y="-1" width="11" height="8.6" fill="#1e90ff"/>
<rect x="112" y="-1" width="3" height="8.6" fill="#00a2ff"/>
<rect x="115" y="-1" width="0.7" height="8.6" fill="#d8f0ff"/>
<rect x="116.2" y="-1" width="6.8" height="1.6" fill="#58b4ff"/>
<rect x="117" y="3.4" width="4.6" height="1.2" fill="#f0f8ff"/>
<path d="M113.4,14.4 C109.4,14.4 109.4,10.2 112.4,9.6 C112.6,7.6 115.4,7 116.4,8.6 C117.6,6.6 121,6.8 121.6,9 C123.4,8 125.2,9.2 124.6,10.6 C126.8,11.2 126.2,14.4 123.8,14.4 Z" fill="url(#gCloud)" stroke="#34569a" stroke-width="1.05"/>
<!-- signal -->
<defs><linearGradient id="gSweep" x1="0" y1="0" x2="0" y2="1"><stop offset="0" stop-color="#b8d8b8" stop-opacity="0.35"/><stop offset="0.55" stop-color="#8cc48c" stop-opacity="0.6"/><stop offset="1" stop-color="#2fa02f" stop-opacity="0.95"/></linearGradient></defs>
<g fill="none" stroke-width="1.1">
<path d="M146,-1 A7.8,7.8 0 0 0 146,14.6" stroke="#7f9fe0"/>
<path d="M146,2.2 A4.6,4.6 0 0 0 146,11.4" stroke="#7f9fe0"/>
<path d="M146,-1 A7.8,7.8 0 0 1 146,14.6" stroke="#5a8a8a" stroke-opacity="0.6"/>
<path d="M146,2.2 A4.6,4.6 0 0 1 146,11.4" stroke="#6a9a9a" stroke-opacity="0.5"/>
</g>
<path d="M146,6.8 L146,-1 A7.8,7.8 0 0 1 146,14.6 Z" fill="url(#gSweep)"/>
<circle cx="145.6" cy="6.7" r="1.9" fill="#2458d0"/>
<path d="M146.5,7 V14.6" stroke="#1fa01f" stroke-width="1.4"/>
<!-- auto trading hat -->
<path d="M165.2,6.6 L180.8,5.6 L174,14.8 L171.6,14 Z" fill="url(#gFace)" stroke="#d09a10" stroke-width="0.7" stroke-linejoin="round"/>
<path d="M165,4 C166,2 169,2.6 169.8,-1 H176 C176.6,2.4 180,1.6 181,3.6 C180,6.6 167,7 165,4 Z" fill="url(#gHat)" stroke="#2f86b8" stroke-width="0.7"/>
<circle cx="177.6" cy="10.6" r="4.1" fill="#e22400" stroke="#b81400" stroke-width="0.5"/>
<rect x="176.1" y="9.1" width="3.1" height="3.1" fill="#fff"/>
<text class="cj" x="186" y="10" textLength="47.5" lengthAdjust="spacingAndGlyphs">自动交易</text>
<!-- bar chart icon -->
<use href="#axes" x="257" y="0"/>
<path d="M266.5,3 V10.3 M266.5,3.4 H269 M264,9.6 H266.5" stroke="#1f9a2a" stroke-width="1.3" fill="none"/>
<!-- candle icon -->
<use href="#axes" x="285" y="0"/>
<path d="M293.2,-1 V10.5" stroke="#1f9a2a" stroke-width="1.2"/>
<rect x="291" y="1" width="4.6" height="7.4" fill="#22dd22" stroke="#149a14" stroke-width="0.8"/>
<!-- line chart icon -->
<use href="#axes" x="313" y="0"/>
<path d="M314.5,9.6 C317,7 318.5,4.2 320.5,4.2 C322.5,4.2 323.5,7.4 326,8.2" stroke="#1f9a2a" stroke-width="1.2" fill="none"/>
<!-- zoom in/out -->
<path d="M355,9.2 L359.8,14" stroke="#a87808" stroke-width="3.2" stroke-linecap="butt"/>
<path d="M355,9.2 L359.6,13.8" stroke="#f0d440" stroke-width="1.8" stroke-linecap="butt"/>
<circle cx="351" cy="4.85" r="5.4" fill="#cfeefb" stroke="#3a78c8" stroke-width="1.1"/>
<path d="M347.8,4.9 H354.4 M351.1,1.7 V8.1" stroke="#3f8fc4" stroke-width="1.9"/>
<path d="M383.2,9.2 L388,14" stroke="#a87808" stroke-width="3.2" stroke-linecap="butt"/>
<path d="M383.2,9.2 L387.8,13.8" stroke="#f0d440" stroke-width="1.8" stroke-linecap="butt"/>
<circle cx="379.2" cy="4.85" r="5.4" fill="#cfeefb" stroke="#3a78c8" stroke-width="1.1"/>
<path d="M376,4.9 H382.4" stroke="#3f8fc4" stroke-width="1.9"/>
<!-- tile windows -->
<g shape-rendering="crispEdges">
<rect x="401" y="-1" width="8" height="8" fill="#2f9a14"/>
<rect x="409" y="-1" width="8" height="8" fill="#1f4fd0"/>
<rect x="401" y="7" width="8" height="8" fill="#1f4fd0"/>
<rect x="409" y="7" width="8" height="8" fill="#2f9a14"/>
<rect x="402" y="2" width="6" height="4" fill="#fff"/>
<rect x="410" y="2" width="6" height="4" fill="#fff"/>
<rect x="402" y="10" width="6" height="4" fill="#fff"/>
<rect x="410" y="10" width="6" height="4" fill="#fff"/>
<rect x="403" y="3" width="4" height="1" fill="#9ad880"/>
<rect x="411" y="3" width="4" height="1" fill="#8aa8f0"/>
<rect x="403" y="11" width="4" height="1" fill="#8aa8f0"/>
<rect x="411" y="11" width="4" height="1" fill="#9ad880"/>
<rect x="404" y="5" width="2" height="1" fill="#2f9a14"/>
<rect x="412" y="5" width="2" height="1" fill="#1f4fd0"/>
<rect x="404" y="13" width="2" height="1" fill="#1f4fd0"/>
<rect x="412" y="13" width="2" height="1" fill="#2f9a14"/>
</g>
<!-- autoscroll -->
<use href="#axes" x="437" y="0"/>
<path d="M444.6,3.2 V10.2 L448.4,6.7 Z" fill="#7fe07f" stroke="#1f9a2a" stroke-width="1"/>
<!-- chart shift -->
<use href="#axes" x="465" y="0"/>
<path d="M473.8,1 V10.6" stroke="#1f6fb0" stroke-width="1.2"/>
<path d="M475.2,6.6 H479.4 M477.6,4.6 L475.4,6.6 L477.6,8.6" stroke="#d03a10" stroke-width="1.1" fill="none"/>
<!-- indicators add -->
<path d="M498.5,-1 V12.4 H509.2 V2.4 L506.4,-1 Z" fill="#fcfcfc" stroke="#8c8c8c" stroke-width="1"/>
<path d="M506.4,-1 V2.4 H509.2" fill="none" stroke="#8c8c8c" stroke-width="0.8"/>
<path d="M503.4,1.6 C501.6,1.2 501.4,2.4 501.4,4 V8.6 M500.2,4.6 H503" stroke="#6a6a50" stroke-width="0.9" fill="none"/>
<path d="M506,5.3 H510.2 V9 H513.8 V12.8 H510.2 V16.6 H506 V12.8 H502.3 V9 H506 Z" fill="url(#gPlus)" stroke="#0b8a0b" stroke-width="0.8"/>
<path d="M507.2,6.4 H509 V10.2 H512.6 V11.4 H509 V15.4 H507.2 V11.4 H503.5 V10.2 H507.2 Z" fill="#7dff7d" fill-opacity="0.55"/>
<use href="#ddn" x="520" y="6"/>
<!-- clock -->
<defs><linearGradient id="gClk" x1="0" y1="0" x2="0.4" y2="1"><stop offset="0" stop-color="#3f97f4"/><stop offset="0.5" stop-color="#1c62c8"/><stop offset="1" stop-color="#0a3f9a"/></linearGradient></defs>
<rect x="542.6" y="-1" width="3.4" height="2" fill="#1c62c8"/>
<circle cx="544.2" cy="6.6" r="6.8" fill="#f4f6fa" stroke="url(#gClk)" stroke-width="2.6"/>
<g fill="#9aa4b8"><circle cx="544.2" cy="2" r="0.5"/><circle cx="544.2" cy="11.2" r="0.5"/><circle cx="539.6" cy="6.6" r="0.5"/><circle cx="548.8" cy="6.6" r="0.5"/><circle cx="541" cy="3.4" r="0.4"/><circle cx="547.4" cy="3.4" r="0.4"/><circle cx="541" cy="9.8" r="0.4"/><circle cx="547.4" cy="9.8" r="0.4"/></g>
<path d="M544,2.6 V7 H547.4" stroke="#222" stroke-width="1.3" fill="none"/>
<use href="#ddn" x="559" y="6"/>
<!-- templates -->
<rect x="575.5" y="-1" width="15" height="14.5" fill="#fff" stroke="#2a66c8" stroke-width="1.2"/>
<rect x="575" y="-1" width="16" height="3" fill="#4a86dc"/>
<path d="M575.5,8 H590.5" stroke="#2a66c8" stroke-width="1.1"/>
<path d="M577.4,6.4 L579.6,6.4 L581.6,4.8 L583.6,5.6 L586,4.6 L588.8,4.4" stroke="#a82000" stroke-width="1.3" fill="none"/>
<path d="M577.4,11.8 L579.8,11.8 L581.6,10.8 L583.6,11.6 L586,9.4 L588.6,11.6" stroke="#128a12" stroke-width="1.3" fill="none"/>
<use href="#ddn" x="598" y="6"/>
<!-- cursor -->
<path d="M627,-1 V11 L629.6,8.8 L632.2,14.2 L634,13.2 L631.4,7.8 L635,7.4 L627.6,-1 Z" fill="#4a4a4a"/>
<!-- crosshair -->
<path d="M659.5,0 V6.2 M659.5,8.8 V15 M652,7.5 H658.2 M660.8,7.5 H667" stroke="#484848" stroke-width="1.1"/>
<!-- vline / hline / trendline -->
<path d="M693.7,1 V14" stroke="#505050" stroke-width="1.2"/>
<path d="M716,7.3 H728" stroke="#505050" stroke-width="1.2"/>
<path d="M744,14 L756.2,1.8" stroke="#505050" stroke-width="1.2"/>
<!-- channel -->
<g stroke="#505050" stroke-width="0.95" fill="none">
<path d="M769.8,8.6 L782.6,0.2 M772,13.6 L783.8,6"/>
<path d="M772.8,13.2 L774.4,5.4 M775.4,11.4 L777,3.7 M778,9.8 L779.6,2.1 M780.6,8 L782.2,0.4"/>
</g>
<text x="780.6" y="15.6" style="font-size:6.5px;font-weight:bold;fill:#404040">E</text>
<!-- fibo -->
<g stroke="#505050" stroke-width="1" stroke-dasharray="1,1" fill="none" shape-rendering="crispEdges">
<path d="M799,0.5 H812 M799,3.5 H812 M799,7.5 H812 M799,11.5 H808"/>
</g>
<text x="808.6" y="15.6" style="font-size:6.5px;font-weight:bold;fill:#404040">F</text>
<!-- A -->
<text x="829.6" y="12" textLength="8" lengthAdjust="spacingAndGlyphs" style="font-size:12.5px;fill:#555;stroke:#555;stroke-width:0.45px">A</text>
<!-- text label -->
<rect x="856.5" y="1.5" width="11" height="12" fill="none" stroke="#505050" stroke-width="1" stroke-dasharray="1,1" shape-rendering="crispEdges"/>
<path d="M855.5,0.8 H858.4" stroke="#505050" stroke-width="1.4"/>
<text x="858.4" y="11.6" textLength="7.6" lengthAdjust="spacingAndGlyphs" style="font-size:10.6px;fill:#555;stroke:#555;stroke-width:0.5px">T</text>
<!-- arrows -->
<path d="M886.9,0.4 L890.3,3.4 L886.9,6.3 L883.5,3.4 Z" fill="#505050"/>
<path d="M893.7,8.5 L897.1,11.5 L893.7,14.5 L890.3,11.5 Z" fill="#505050"/>
<path d="M885,8.4 L887.4,10.6 L892,5.2" stroke="#505050" stroke-width="1.4" fill="none"/>
<use href="#ddn" x="904" y="6"/>
<!-- timeframes -->
<g class="tb">
<text class="tb" x="930.4" y="10.8">M1</text>
<text class="tb" x="958.6" y="10.8">M5</text>
<text class="tb" x="984.6" y="10.8">M15</text>
<text class="tb" x="1012.5" y="10.8">M30</text>
<text class="tb" x="1043.6" y="10.8">H1</text>
<text class="tb" x="1070.4" y="10.8">H4</text>
<text class="tb" x="1099.6" y="10.8">D1</text>
<text class="tb" x="1127" y="10.8">W1</text>
<text class="tb" x="1154" y="10.8">MN</text>
</g>
<!-- search -->
<path d="M1643.8,7.6 L1638.8,12.2" stroke="#1f4fd0" stroke-width="2.4" stroke-linecap="round"/>
<circle cx="1646.8" cy="4.4" r="3.9" fill="#f4f4ff" stroke="#1f4fd0" stroke-width="1.5"/>
<!-- chat -->
<path d="M1664,9 C1664,5.4 1667,4.2 1670,4.2 C1674,4.2 1676,6 1676,9 C1676,12 1673,13.6 1669.4,13.6 L1666.6,15.6 L1667.2,13.2 C1665,12.4 1664,11 1664,9 Z" fill="#ececf2" stroke="#b4b4b4" stroke-width="0.9"/>
<circle cx="1677.5" cy="4.6" r="8.3" fill="url(#gRed)"/>
<text x="1673.2" y="9" style="font-family:'Liberation Serif',serif;font-size:13.5px;font-weight:bold;fill:#fff">1</text>

</svg>
</body></html>
